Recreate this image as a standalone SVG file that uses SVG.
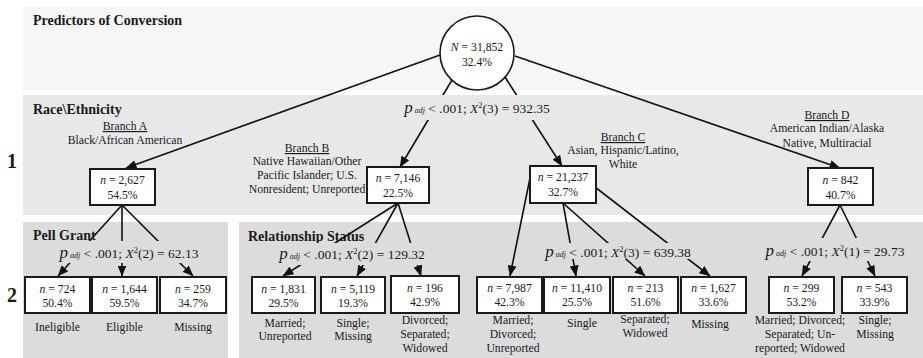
<svg xmlns="http://www.w3.org/2000/svg" width="923" height="358" viewBox="0 0 923 358">
<style>
.p0{fill:#f6f6f6}.p1{fill:#e8e8e8}.p2{fill:#dcdcdc}
.box{fill:#fff;stroke:#1a1a1a;stroke-width:2}
.circ{fill:#fff;stroke:#1a1a1a;stroke-width:1.6}
.edge{stroke:#111;stroke-width:1.6;fill:none;marker-end:url(#arr)}
text{font-family:"Liberation Serif","Times New Roman",serif;fill:#1a1a1a}
.t{font-size:11.7px;text-anchor:middle}
.h{font-size:14px;font-weight:bold}
.lvl{font-size:20px;font-weight:bold;text-anchor:middle}
.stat{font-size:13.5px;text-anchor:middle}
.it{font-style:italic}
.pp{font-style:italic;font-size:17px}
.sub{font-style:italic;font-size:8px}
.sup{font-size:8.5px}
.u{text-decoration:underline}
</style>
<defs>
<marker id="arr" markerUnits="userSpaceOnUse" markerWidth="11" markerHeight="9" refX="10.5" refY="4.5" orient="auto"><path d="M0,0 L11,4.5 L0,9 z" fill="#111"/></marker>
</defs>
<g id="panels">
<rect class="p0" x="23" y="7" width="900" height="83"/>
<rect class="p1" x="23" y="95" width="900" height="120"/>
<rect class="p2" x="23" y="222" width="205" height="136"/>
<rect class="p2" x="239" y="222" width="684" height="136"/>
<text class="h" x="33" y="25">Predictors of Conversion</text>
<text class="h" x="33" y="114">Race\Ethnicity</text>
<text class="h" x="33" y="240">Pell Grant</text>
<text class="h" x="248" y="241">Relationship Status</text>
<text class="lvl" x="12" y="168">1</text>
<text class="lvl" x="12" y="302">2</text>
</g>
<g id="connectors">
<line class="edge" x1="440" y1="55" x2="126" y2="168"/>
<line class="edge" x1="452" y1="80" x2="400" y2="167"/>
<line class="edge" x1="505" y1="77" x2="562" y2="166"/>
<line class="edge" x1="515" y1="56" x2="840" y2="168"/>
<line class="edge" x1="122" y1="205" x2="58" y2="276"/>
<line class="edge" x1="122" y1="205" x2="122" y2="276"/>
<line class="edge" x1="122" y1="205" x2="193" y2="276"/>
<line class="edge" x1="398" y1="203" x2="283" y2="276"/>
<line class="edge" x1="398" y1="203" x2="357" y2="276"/>
<line class="edge" x1="398" y1="203" x2="421" y2="276"/>
<line class="edge" x1="530" y1="178" x2="510" y2="276"/>
<line class="edge" x1="563" y1="203" x2="576" y2="276"/>
<line class="edge" x1="563" y1="203" x2="645" y2="276"/>
<line class="edge" x1="595" y1="187" x2="710" y2="276"/>
<line class="edge" x1="840" y1="205" x2="802" y2="276"/>
<line class="edge" x1="840" y1="205" x2="875" y2="276"/>
</g>
<g id="stats">
<rect class="p1" x="400" y="95" width="155" height="25"/>
<rect class="p2" x="55" y="241" width="150" height="22"/>
<rect class="p2" x="276" y="243" width="155" height="22"/>
<rect class="p2" x="542" y="243" width="152" height="16"/>
<rect class="p2" x="764" y="238" width="143" height="23"/>
<text class="stat" x="477" y="113"><tspan class="pp">p</tspan><tspan class="sub" dx="2">adj</tspan> &lt; .001; <tspan class="it">X</tspan><tspan class="sup" dy="-5">2</tspan><tspan dy="5">(3) = 932.35</tspan></text>
<text class="stat" x="129" y="258"><tspan class="pp">p</tspan><tspan class="sub" dx="2">adj</tspan> &lt; .001; <tspan class="it">X</tspan><tspan class="sup" dy="-5">2</tspan><tspan dy="5">(2) = 62.13</tspan></text>
<text class="stat" x="352" y="259"><tspan class="pp">p</tspan><tspan class="sub" dx="2">adj</tspan> &lt; .001; <tspan class="it">X</tspan><tspan class="sup" dy="-5">2</tspan><tspan dy="5">(2) = 129.32</tspan></text>
<text class="stat" x="618" y="257"><tspan class="pp">p</tspan><tspan class="sub" dx="2">adj</tspan> &lt; .001; <tspan class="it">X</tspan><tspan class="sup" dy="-5">2</tspan><tspan dy="5">(3) = 639.38</tspan></text>
<text class="stat" x="835" y="256"><tspan class="pp">p</tspan><tspan class="sub" dx="2">adj</tspan> &lt; .001; <tspan class="it">X</tspan><tspan class="sup" dy="-5">2</tspan><tspan dy="5">(1) = 29.73</tspan></text>
</g>
<g id="root">
<circle class="circ" cx="477" cy="53" r="37"/>
<text class="t" x="477" y="51"><tspan class="it">N</tspan> = 31,852</text>
<text class="t" x="477" y="66">32.4%</text>
</g>
<g id="branchA">
<text class="t u" x="125" y="130">Branch A</text>
<text class="t" x="125" y="144">Black/African American</text>
<rect class="box" x="90" y="169" width="65" height="36"/>
<text class="t" x="122.5" y="184"><tspan class="it">n</tspan> = 2,627</text>
<text class="t" x="122.5" y="199">54.5%</text>
</g>
<g id="branchB">
<text class="t u" x="307" y="152">Branch B</text>
<text class="t" x="307" y="165">Native Hawaiian/Other</text>
<text class="t" x="307" y="179">Pacific Islander; U.S.</text>
<text class="t" x="307" y="193">Nonresident; Unreported</text>
<rect class="box" x="367" y="167" width="62" height="36"/>
<text class="t" x="398" y="182"><tspan class="it">n</tspan> = 7,146</text>
<text class="t" x="398" y="197">22.5%</text>
</g>
<g id="branchC">
<text class="t u" x="623" y="141">Branch C</text>
<text class="t" x="623" y="154">Asian, Hispanic/Latino,</text>
<text class="t" x="623" y="168">White</text>
<rect class="box" x="530" y="166" width="66" height="37"/>
<text class="t" x="563" y="181"><tspan class="it">n</tspan> = 21,237</text>
<text class="t" x="563" y="196">32.7%</text>
</g>
<g id="branchD">
<text class="t u" x="827" y="119">Branch D</text>
<text class="t" x="827" y="132">American Indian/Alaska</text>
<text class="t" x="827" y="147">Native, Multiracial</text>
<rect class="box" x="808" y="168" width="65" height="37"/>
<text class="t" x="840.5" y="184"><tspan class="it">n</tspan> = 842</text>
<text class="t" x="840.5" y="199">40.7%</text>
</g>
<g id="A1">
<rect class="box" x="25" y="277" width="65" height="36"/>
<text class="t" x="57.5" y="293"><tspan class="it">n</tspan> = 724</text>
<text class="t" x="57.5" y="307">50.4%</text>
<text class="t" x="57.5" y="331">Ineligible</text>
</g>
<g id="A2">
<rect class="box" x="92" y="277" width="65" height="36"/>
<text class="t" x="124.5" y="293"><tspan class="it">n</tspan> = 1,644</text>
<text class="t" x="124.5" y="307">59.5%</text>
<text class="t" x="124.5" y="331">Eligible</text>
</g>
<g id="A3">
<rect class="box" x="160" y="277" width="66" height="36"/>
<text class="t" x="193" y="293"><tspan class="it">n</tspan> = 259</text>
<text class="t" x="193" y="307">34.7%</text>
<text class="t" x="193" y="331">Missing</text>
</g>
<g id="B1">
<rect class="box" x="252" y="277" width="63" height="36"/>
<text class="t" x="283.5" y="293"><tspan class="it">n</tspan> = 1,831</text>
<text class="t" x="283.5" y="307">29.5%</text>
<text class="t" x="285" y="327">Married;</text>
<text class="t" x="285" y="340">Unreported</text>
</g>
<g id="B2">
<rect class="box" x="321" y="277" width="64" height="36"/>
<text class="t" x="353" y="293"><tspan class="it">n</tspan> = 5,119</text>
<text class="t" x="353" y="307">19.3%</text>
<text class="t" x="353" y="327">Single;</text>
<text class="t" x="353" y="340">Missing</text>
</g>
<g id="B3">
<rect class="box" x="391" y="276" width="68" height="37"/>
<text class="t" x="425" y="292"><tspan class="it">n</tspan> = 196</text>
<text class="t" x="425" y="306">42.9%</text>
<text class="t" x="425" y="324">Divorced;</text>
<text class="t" x="425" y="338">Separated;</text>
<text class="t" x="425" y="352">Widowed</text>
</g>
<g id="C1">
<rect class="box" x="477" y="277" width="65" height="36"/>
<text class="t" x="509.5" y="292"><tspan class="it">n</tspan> = 7,987</text>
<text class="t" x="509.5" y="306">42.3%</text>
<text class="t" x="513" y="324">Married;</text>
<text class="t" x="513" y="338">Divorced;</text>
<text class="t" x="513" y="352">Unreported</text>
</g>
<g id="C2">
<rect class="box" x="544" y="277" width="66" height="36"/>
<text class="t" x="577" y="292"><tspan class="it">n</tspan> = 11,410</text>
<text class="t" x="577" y="306">25.5%</text>
<text class="t" x="582" y="327">Single</text>
</g>
<g id="C3">
<rect class="box" x="613" y="277" width="65" height="36"/>
<text class="t" x="645.5" y="292"><tspan class="it">n</tspan> = 213</text>
<text class="t" x="645.5" y="306">51.6%</text>
<text class="t" x="645" y="323">Separated;</text>
<text class="t" x="645" y="337">Widowed</text>
</g>
<g id="C4">
<rect class="box" x="681" y="277" width="65" height="36"/>
<text class="t" x="713.5" y="292"><tspan class="it">n</tspan> = 1,627</text>
<text class="t" x="713.5" y="306">33.6%</text>
<text class="t" x="710" y="328">Missing</text>
</g>
<g id="D1">
<rect class="box" x="769" y="277" width="65" height="36"/>
<text class="t" x="801.5" y="292"><tspan class="it">n</tspan> = 299</text>
<text class="t" x="801.5" y="306">53.2%</text>
<text class="t" x="800" y="324">Married; Divorced;</text>
<text class="t" x="800" y="338">Separated; Un-</text>
<text class="t" x="800" y="352">reported; Widowed</text>
</g>
<g id="D2">
<rect class="box" x="842" y="277" width="65" height="36"/>
<text class="t" x="874.5" y="292"><tspan class="it">n</tspan> = 543</text>
<text class="t" x="874.5" y="306">33.9%</text>
<text class="t" x="875" y="324">Single;</text>
<text class="t" x="875" y="338">Missing</text>
</g>
</svg>
